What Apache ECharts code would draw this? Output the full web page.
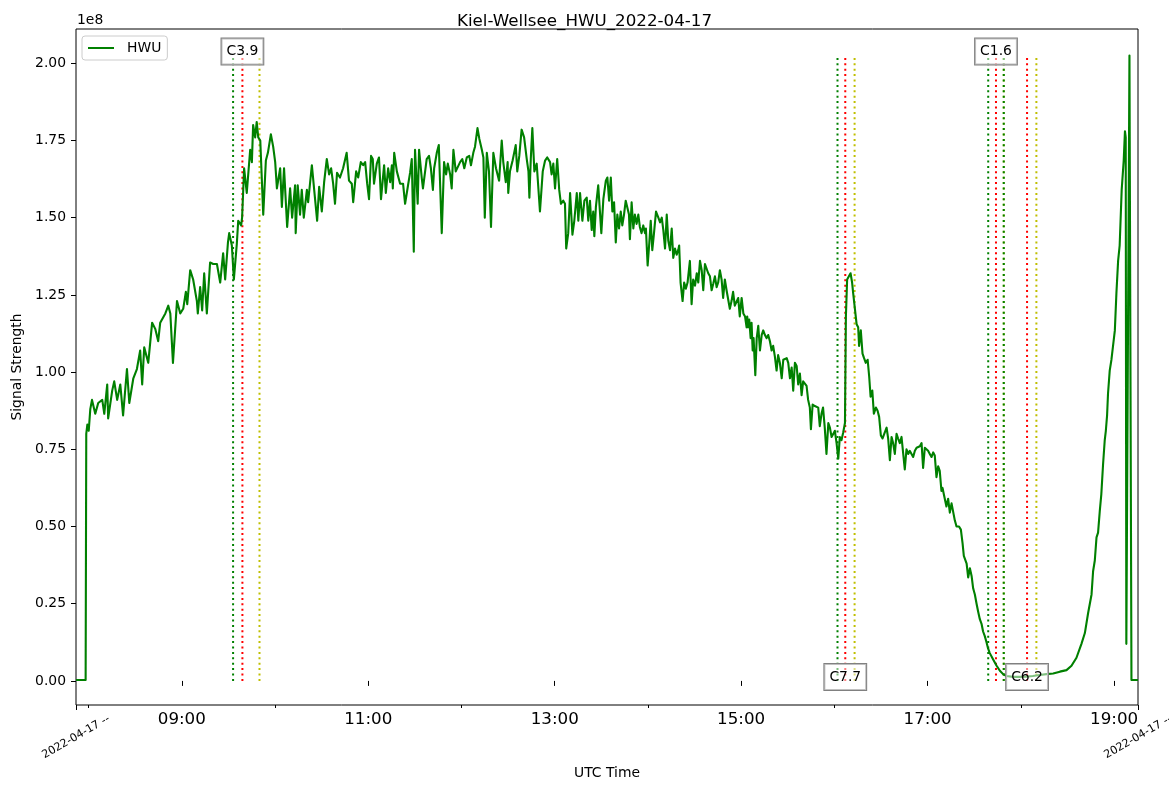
<!DOCTYPE html>
<html>
<head>
<meta charset="utf-8">
<script src="https://cdn.jsdelivr.net/npm/echarts@6/dist/echarts.min.js"></script>
<style>
html,body{margin:0;padding:0;background:#fff;}
#chart{width:1169px;height:792px;}
</style>
</head>
<body>
<div id="chart"></div>
<script>
// ---- DATA ----
const chartTitle = 'Kiel-Wellsee_HWU_2022-04-17';
const seriesName = 'HWU';
const dateLabel = '2022-04-17 --';
// time of each sample, minutes since 00:00 UTC
const timeMin = [
471.9,478.1,478.5,479.2,480.1,481.1,482.2,484.3,486.2,488.8,
490.1,492.0,492.6,495.2,496.5,498.4,500.4,502.2,504.7,506.2,
508.8,511.1,513.2,514.5,515.8,518.4,520.9,522.9,524.8,526.1,
529.4,531.3,532.6,534.3,536.9,539.0,540.9,542.6,543.5,545.4,
547.3,549.7,550.3,551.8,553.1,554.4,556.1,556.9,558.2,560.2,
562.6,564.7,566.6,567.9,569.7,570.5,572.2,573.5,575.4,576.3,
578.2,578.8,580.1,581.8,584.0,585.1,585.9,587.2,588.2,589.2,
590.5,592.4,594.1,595.4,597.3,598.8,600.1,601.2,603.3,604.4,
605.8,607.8,609.7,611.0,612.9,613.3,614.6,616.1,617.2,618.5,
620.5,621.3,623.7,625.2,627.1,628.4,630.1,631.6,633.3,634.8,
636.1,637.4,638.6,639.9,641.8,643.8,646.1,647.6,649.4,650.3,
652.2,653.5,655.2,656.7,658.0,659.3,660.5,661.8,662.9,663.7,
665.5,666.9,668.2,670.2,671.3,672.8,674.1,675.2,675.8,676.7,
678.4,680.5,682.4,683.7,685.6,686.9,688.0,689.3,690.1,691.8,
692.7,694.4,695.2,697.6,699.1,700.3,701.6,702.4,704.1,705.4,
707.3,708.8,710.1,711.2,712.7,713.7,714.8,716.3,717.3,719.1,
720.5,721.8,723.4,725.0,726.1,727.6,728.7,730.3,731.5,733.1,
734.1,735.0,736.3,737.7,739.0,740.5,742.2,744.2,745.9,746.9,
748.5,749.7,750.1,751.2,752.9,754.0,754.9,755.9,757.2,758.7,
760.3,762.0,763.1,763.7,764.6,765.6,766.9,768.4,770.5,772.3,
773.8,775.2,777.0,778.0,779.1,780.2,781.6,782.9,784.0,785.5,
786.6,787.4,788.7,789.9,791.4,792.6,794.2,795.2,796.3,797.8,
799.1,800.6,801.6,802.7,803.8,804.8,805.5,806.5,808.0,809.1,
810.0,811.3,812.9,813.9,815.0,816.1,817.1,818.2,819.3,820.3,
821.4,822.5,823.5,824.6,825.7,826.7,827.8,828.4,829.5,830.6,
831.6,832.7,833.8,834.8,835.9,837.0,838.1,838.7,839.8,840.9,
841.8,842.8,843.9,845.2,846.7,847.8,848.9,849.9,851.0,852.1,
853.1,854.2,855.3,856.3,857.4,858.5,859.5,860.1,861.0,862.3,
863.3,864.4,865.5,867.0,868.1,869.1,870.3,871.4,872.4,873.5,
874.6,875.6,876.7,877.8,878.8,879.9,881.0,882.0,883.1,884.2,
885.2,886.3,887.4,888.4,889.5,890.6,891.6,892.7,893.8,894.8,
895.9,897.0,898.1,899.1,900.3,901.4,902.5,903.5,903.9,904.6,
905.2,906.1,906.7,907.4,908.0,909.1,910.0,911.0,912.1,913.2,
914.2,915.3,916.4,917.4,918.5,919.6,920.6,921.7,922.8,923.8,
924.9,926.1,927.1,928.2,929.3,930.3,931.4,932.5,933.5,934.6,
935.7,936.7,937.8,938.9,939.9,941.0,942.1,943.1,944.2,944.9,
946.0,947.4,948.5,949.6,950.6,951.7,952.7,953.8,954.9,956.1,
957.1,958.2,959.3,960.3,961.4,962.5,963.5,964.6,965.7,966.8,
967.4,968.2,969.3,970.4,971.4,972.1,973.2,974.3,975.3,975.9,
977.0,978.1,979.1,980.2,981.4,982.4,983.3,984.4,985.4,986.7,
987.8,988.8,989.9,991.0,992.0,993.6,994.6,995.7,996.8,997.8,
998.9,1000.0,1001.0,1002.1,1003.2,1004.2,1005.3,1006.4,1007.5,1008.5,
1009.6,1010.7,1011.8,1012.9,1013.9,1015.0,1016.1,1017.1,1018.2,1019.3,
1020.3,1021.4,1022.5,1023.6,1024.6,1025.7,1026.8,1027.8,1028.9,1029.6,
1030.4,1031.5,1032.1,1033.2,1034.3,1035.4,1036.4,1037.5,1038.6,1040.2,
1041.4,1042.5,1043.3,1044.4,1045.1,1046.1,1047.2,1048.3,1049.3,1050.4,
1051.5,1052.5,1053.6,1054.7,1055.7,1056.8,1057.9,1058.9,1060.0,1062.1,
1064.3,1066.5,1068.6,1070.8,1074.9,1079.3,1083.6,1087.7,1092.2,1096.5,
1100.8,1105.1,1109.4,1112.6,1115.8,1119.0,1121.2,1123.3,1125.5,1126.5,
1127.6,1128.7,1129.7,1130.8,1131.8,1132.9,1134.0,1134.7,1135.5,1136.1,
1137.2,1138.3,1139.4,1140.5,1141.5,1142.6,1143.6,1144.9,1146.2,1147.0,
1147.5,1147.9,1148.3,1149.9,1150.4,1151.2,1155.4
];
// signal strength, units of 1e8
const hwuSignal = [
0.003,0.003,0.80,0.83,0.81,0.88,0.91,0.865,0.90,0.91,
0.865,0.96,0.85,0.94,0.97,0.91,0.96,0.86,1.01,0.90,
0.98,1.01,1.07,0.96,1.08,1.03,1.16,1.14,1.10,1.16,
1.19,1.215,1.19,1.03,1.23,1.19,1.205,1.26,1.22,1.33,
1.30,1.23,1.19,1.275,1.20,1.32,1.19,1.19,1.355,1.35,
1.35,1.29,1.385,1.30,1.42,1.45,1.41,1.30,1.415,1.49,
1.475,1.50,1.66,1.58,1.72,1.68,1.80,1.76,1.81,1.76,
1.75,1.51,1.685,1.71,1.77,1.73,1.68,1.595,1.66,1.535,
1.66,1.47,1.595,1.50,1.605,1.45,1.605,1.51,1.59,1.50,
1.59,1.55,1.67,1.59,1.49,1.60,1.52,1.615,1.69,1.64,
1.66,1.61,1.545,1.645,1.63,1.66,1.71,1.62,1.61,1.55,
1.65,1.63,1.68,1.67,1.68,1.61,1.56,1.70,1.69,1.61,
1.675,1.695,1.56,1.67,1.58,1.66,1.615,1.67,1.595,1.71,
1.65,1.61,1.61,1.545,1.605,1.645,1.69,1.39,1.72,1.545,
1.72,1.63,1.595,1.69,1.70,1.66,1.59,1.66,1.71,1.735,
1.45,1.68,1.64,1.675,1.64,1.595,1.72,1.65,1.65,1.68,
1.69,1.66,1.695,1.70,1.67,1.71,1.73,1.79,1.755,1.72,
1.695,1.50,1.71,1.65,1.47,1.71,1.66,1.62,1.75,1.68,
1.615,1.68,1.58,1.65,1.685,1.69,1.735,1.65,1.70,1.785,
1.76,1.69,1.65,1.565,1.69,1.79,1.65,1.675,1.52,1.65,
1.685,1.695,1.68,1.64,1.675,1.595,1.69,1.59,1.545,1.555,
1.545,1.40,1.45,1.58,1.445,1.49,1.58,1.49,1.58,1.49,
1.555,1.565,1.49,1.555,1.46,1.52,1.44,1.535,1.605,1.60,
1.45,1.56,1.62,1.63,1.555,1.63,1.52,1.55,1.42,1.51,
1.465,1.52,1.475,1.51,1.555,1.56,1.51,1.43,1.55,1.465,
1.51,1.48,1.51,1.47,1.45,1.475,1.45,1.465,1.345,1.42,
1.49,1.395,1.45,1.52,1.50,1.485,1.50,1.46,1.40,1.51,
1.425,1.395,1.465,1.37,1.40,1.38,1.395,1.41,1.29,1.23,
1.29,1.27,1.29,1.36,1.22,1.30,1.28,1.32,1.29,1.36,
1.33,1.265,1.35,1.345,1.32,1.31,1.265,1.285,1.31,1.275,
1.29,1.33,1.30,1.24,1.30,1.265,1.27,1.205,1.23,1.26,
1.215,1.21,1.24,1.18,1.24,1.19,1.18,1.145,1.18,1.145,
1.17,1.11,1.16,1.07,1.11,0.99,1.11,1.15,1.07,1.12,
1.135,1.12,1.11,1.12,1.10,1.07,1.085,1.05,1.005,1.055,
1.03,0.98,1.04,1.04,1.045,1.03,0.98,1.015,0.94,1.03,
1.02,0.96,0.995,0.925,0.97,0.965,0.955,0.91,0.885,0.815,
0.895,0.89,0.895,0.885,0.825,0.865,0.885,0.82,0.735,0.835,
0.82,0.79,0.80,0.81,0.77,0.72,0.79,0.78,0.805,0.835,
1.18,1.30,1.30,1.32,1.29,1.255,1.25,1.155,1.145,1.085,
1.135,1.06,1.045,1.03,1.04,0.985,0.92,0.94,0.865,0.885,
0.875,0.855,0.795,0.785,0.79,0.82,0.785,0.715,0.79,0.77,
0.735,0.80,0.785,0.77,0.79,0.79,0.685,0.75,0.735,0.745,
0.745,0.725,0.745,0.755,0.755,0.76,0.77,0.69,0.755,0.755,
0.745,0.735,0.725,0.74,0.73,0.66,0.695,0.68,0.615,0.625,
0.605,0.61,0.565,0.59,0.545,0.575,0.57,0.52,0.50,0.50,
0.49,0.445,0.405,0.405,0.38,0.335,0.365,0.34,0.30,0.28,
0.25,0.225,0.20,0.185,0.16,0.145,0.125,0.105,0.09,0.07,
0.05,0.033,0.022,0.016,0.013,0.013,0.014,0.016,0.019,0.022,
0.024,0.030,0.035,0.049,0.075,0.12,0.155,0.22,0.28,0.355,
0.39,0.465,0.48,0.55,0.605,0.70,0.78,0.81,0.86,0.93,
1.005,1.04,1.045,1.135,1.255,1.36,1.41,1.59,1.685,1.78,
1.76,0.12,0.125,2.025,2.02,0.003,0.003
];
// flare events (minutes since 00:00 UTC)
const flareClass = ['C3.9','C7.7','C1.6','C6.2'];
const flareStart = [573, 962, 1059, 1069];
const flarePeak  = [579, 967, 1064, 1084];
const flareEnd   = [590, 973, 1069, 1090];
// axis ranges and ticks
const xMin = 471.9, xMax = 1155.4;           // minutes
const xMajorTicks = [540, 660, 780, 900, 1020, 1140];
const xMinorTicks = [480, 600, 720, 840, 960, 1080];
const yMin = -0.078, yMax = 2.111;            // 1e8
const yTicks = [0, 0.25, 0.5, 0.75, 1.0, 1.25, 1.5, 1.75, 2.0];

// ---- CHART ----
const FONT = 'DejaVu Sans';
function hhmm(m){
  const h = Math.floor(m/60), mm = Math.round(m - h*60);
  return String(h).padStart(2,'0') + ':' + String(mm).padStart(2,'0');
}
const hwuData = timeMin.map((t,i)=>[t, hwuSignal[i]]);
const dataMax = Math.max.apply(null, hwuSignal);

const series = [];
const flareLineColors = {start:'#008000', peak:'#ff0000', end:'#bfbf00'};
function vline(t, color){
  series.push({
    type:'line', name:'flare', xAxisIndex:0, yAxisIndex:0,
    data:[[t,0],[t,dataMax]], symbol:'none', silent:true, z:2,
    lineStyle:{color:color, width:2, type:[2,3.4], cap:'butt'},
    animation:false
  });
}
flareClass.forEach((c,i)=>{
  vline(flareStart[i], flareLineColors.start);
  vline(flarePeak[i], flareLineColors.peak);
  vline(flareEnd[i], flareLineColors.end);
});
series.push({
  type:'line', name:seriesName, xAxisIndex:0, yAxisIndex:0,
  data:hwuData, showSymbol:false, symbol:'none', z:3,
  lineStyle:{color:'#008000', width:2.1, join:'round'}, itemStyle:{color:'#008000'},
  animation:false
});
series.push({
  type:'scatter', name:'flareLabels', xAxisIndex:0, yAxisIndex:0, z:10, silent:true,
  symbolSize:0, itemStyle:{opacity:1, color:'#000'},
  data: flareClass.map((c,i)=>({name:c, value:[flarePeak[i], i%2===0 ? dataMax : 0]})),
  label:{
    show:true, position:'inside', formatter:p=>p.name, offset:[0,-4], opacity:1,
    fontFamily:FONT, fontSize:13.9, color:'#000000', lineHeight:14,
    backgroundColor:'rgba(255,255,255,0.5)', borderColor:'#808080', borderWidth:1,
    padding:[6,5,6,5]
  },
  animation:false
});

const chart = echarts.init(document.getElementById('chart'), null, {renderer:'canvas'});
chart.setOption({
  animation:false,
  backgroundColor:'#ffffff',
  textStyle:{fontFamily:FONT},
  title:{
    text:chartTitle, left:'center', top:13, padding:0,
    textStyle:{fontFamily:FONT, fontSize:16.7, fontWeight:'normal', color:'#000'}
  },
  legend:{
    data:[seriesName], left:82, top:36, orient:'vertical',
    backgroundColor:'rgba(255,255,255,0.8)', borderColor:'#cccccc', borderWidth:1, borderRadius:3,
    padding:[5,6,5,6], icon:'rect', itemWidth:26, itemHeight:2,
    textStyle:{fontFamily:FONT, fontSize:13.9, color:'#000', padding:[0,0,0,8]}
  },
  graphic:[{
    type:'text', left:77, top:13,
    style:{text:'1e8', fontFamily:FONT, fontSize:13.9, fill:'#000'}
  }],
  grid:{left:76, right:31, top:29, bottom:87, show:true, borderColor:'#000', borderWidth:1,
        containLabel:false, outerBoundsMode:'none'},
  xAxis:[
    {
      type:'value', min:xMin, max:xMax, position:'bottom',
      name:'UTC Time', nameLocation:'middle', nameGap:61,
      nameTextStyle:{fontFamily:FONT, fontSize:13.9, color:'#000'},
      axisLine:{show:false}, splitLine:{show:false},
      axisTick:{show:true, length:5, customValues:xMajorTicks, lineStyle:{color:'#000', width:1}},
      axisLabel:{customValues:xMajorTicks, formatter:v=>hhmm(v), fontFamily:FONT, fontSize:16.7, color:'#000', margin:6}
    },
    {
      type:'value', min:xMin, max:xMax, position:'bottom',
      axisLine:{show:false}, splitLine:{show:false},
      axisTick:{show:true, length:3, customValues:xMinorTicks, lineStyle:{color:'#000', width:1}},
      axisLabel:{show:false}
    },
    {
      type:'value', min:xMin, max:xMax, position:'bottom',
      axisLine:{show:false}, splitLine:{show:false},
      axisTick:{show:true, length:5, customValues:[xMin, xMax], lineStyle:{color:'#000', width:1}},
      axisLabel:{customValues:[xMin, xMax], formatter:()=>dateLabel, rotate:30, align:'center', verticalAlign:'middle',
        margin:32, fontFamily:FONT, fontSize:11.1, color:'#000'}
    }
  ],
  yAxis:{
    type:'value', min:yMin, max:yMax,
    name:'Signal Strength', nameLocation:'middle', nameGap:48, nameRotate:90,
    nameTextStyle:{fontFamily:FONT, fontSize:13.9, color:'#000'},
    axisLine:{show:false}, splitLine:{show:false},
    axisTick:{show:true, length:5, customValues:yTicks, lineStyle:{color:'#000', width:1}},
    axisLabel:{customValues:yTicks, formatter:v=>v.toFixed(2), fontFamily:FONT, fontSize:13.9, color:'#000', margin:10}
  },
  series:series
});
</script>
</body>
</html>
